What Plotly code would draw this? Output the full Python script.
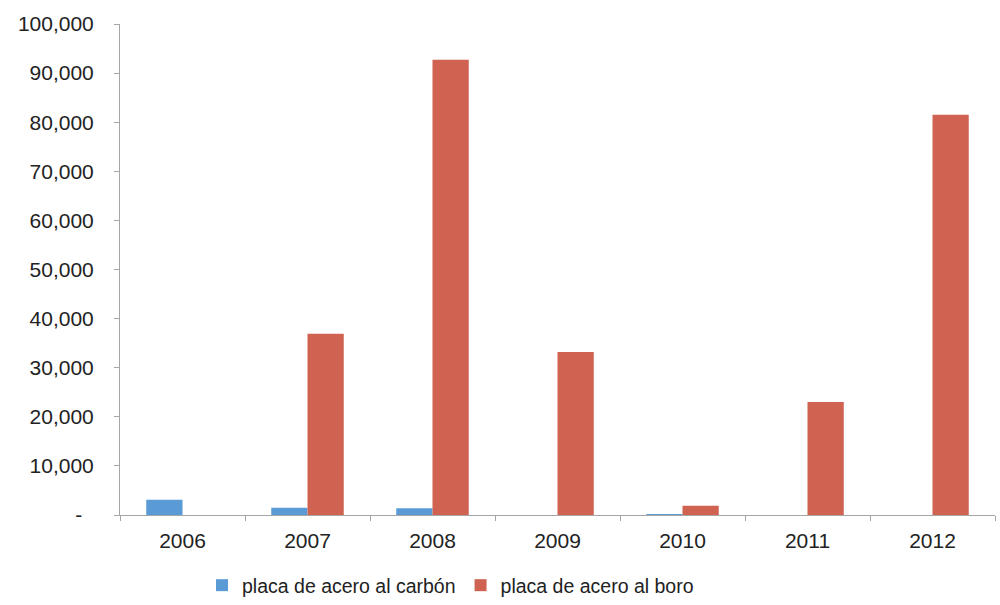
import plotly.graph_objects as go

years = ["2006", "2007", "2008", "2009", "2010", "2011", "2012"]
carbon = [3100, 1500, 1400, 0, 200, 0, 0]
boro = [0, 36900, 92700, 33200, 1900, 23000, 81500]

y_ticks = [0, 10000, 20000, 30000, 40000, 50000, 60000, 70000, 80000, 90000, 100000]
y_labels = ["-\u00a0\u00a0", "10,000", "20,000", "30,000", "40,000", "50,000",
            "60,000", "70,000", "80,000", "90,000", "100,000"]

fig = go.Figure()
fig.add_trace(go.Bar(x=years, y=carbon, name="placa de acero al carbón",
                     marker=dict(color="#5b9bd5", line=dict(width=0))))
fig.add_trace(go.Bar(x=years, y=boro, name="placa de acero al boro",
                     marker=dict(color="#cf6250", line=dict(width=0))))

axis_font = dict(family="Liberation Sans, Arial, sans-serif", size=21, color="#222222")

fig.update_layout(
    width=1000, height=605,
    margin=dict(l=120, r=5, t=24, b=90),
    paper_bgcolor="white", plot_bgcolor="white",
    barmode="group", bargap=0.42, bargroupgap=0,
    font=axis_font,
    showlegend=True,
    legend=dict(orientation="h", xref="container", x=0.202, xanchor="left",
                yref="container", y=0.0, yanchor="bottom",
                font=dict(family="Liberation Sans, Arial, sans-serif",
                          size=19.5, color="#222222"),
                itemwidth=30, traceorder="normal"),
    xaxis=dict(showline=True, linecolor="#a6a6a6", linewidth=1,
               ticks="outside", ticklen=5, tickcolor="#a6a6a6",
               tickson="boundaries", showgrid=False, tickfont=axis_font,
               ticklabelstandoff=7),
    yaxis=dict(range=[0, 100000], tickvals=y_ticks, ticktext=y_labels,
               showline=True, linecolor="#a6a6a6", linewidth=1,
               ticks="outside", ticklen=5, tickcolor="#a6a6a6",
               showgrid=False, zeroline=False, tickfont=axis_font,
               ticklabelstandoff=16),
)

fig.write_html("out.html")
